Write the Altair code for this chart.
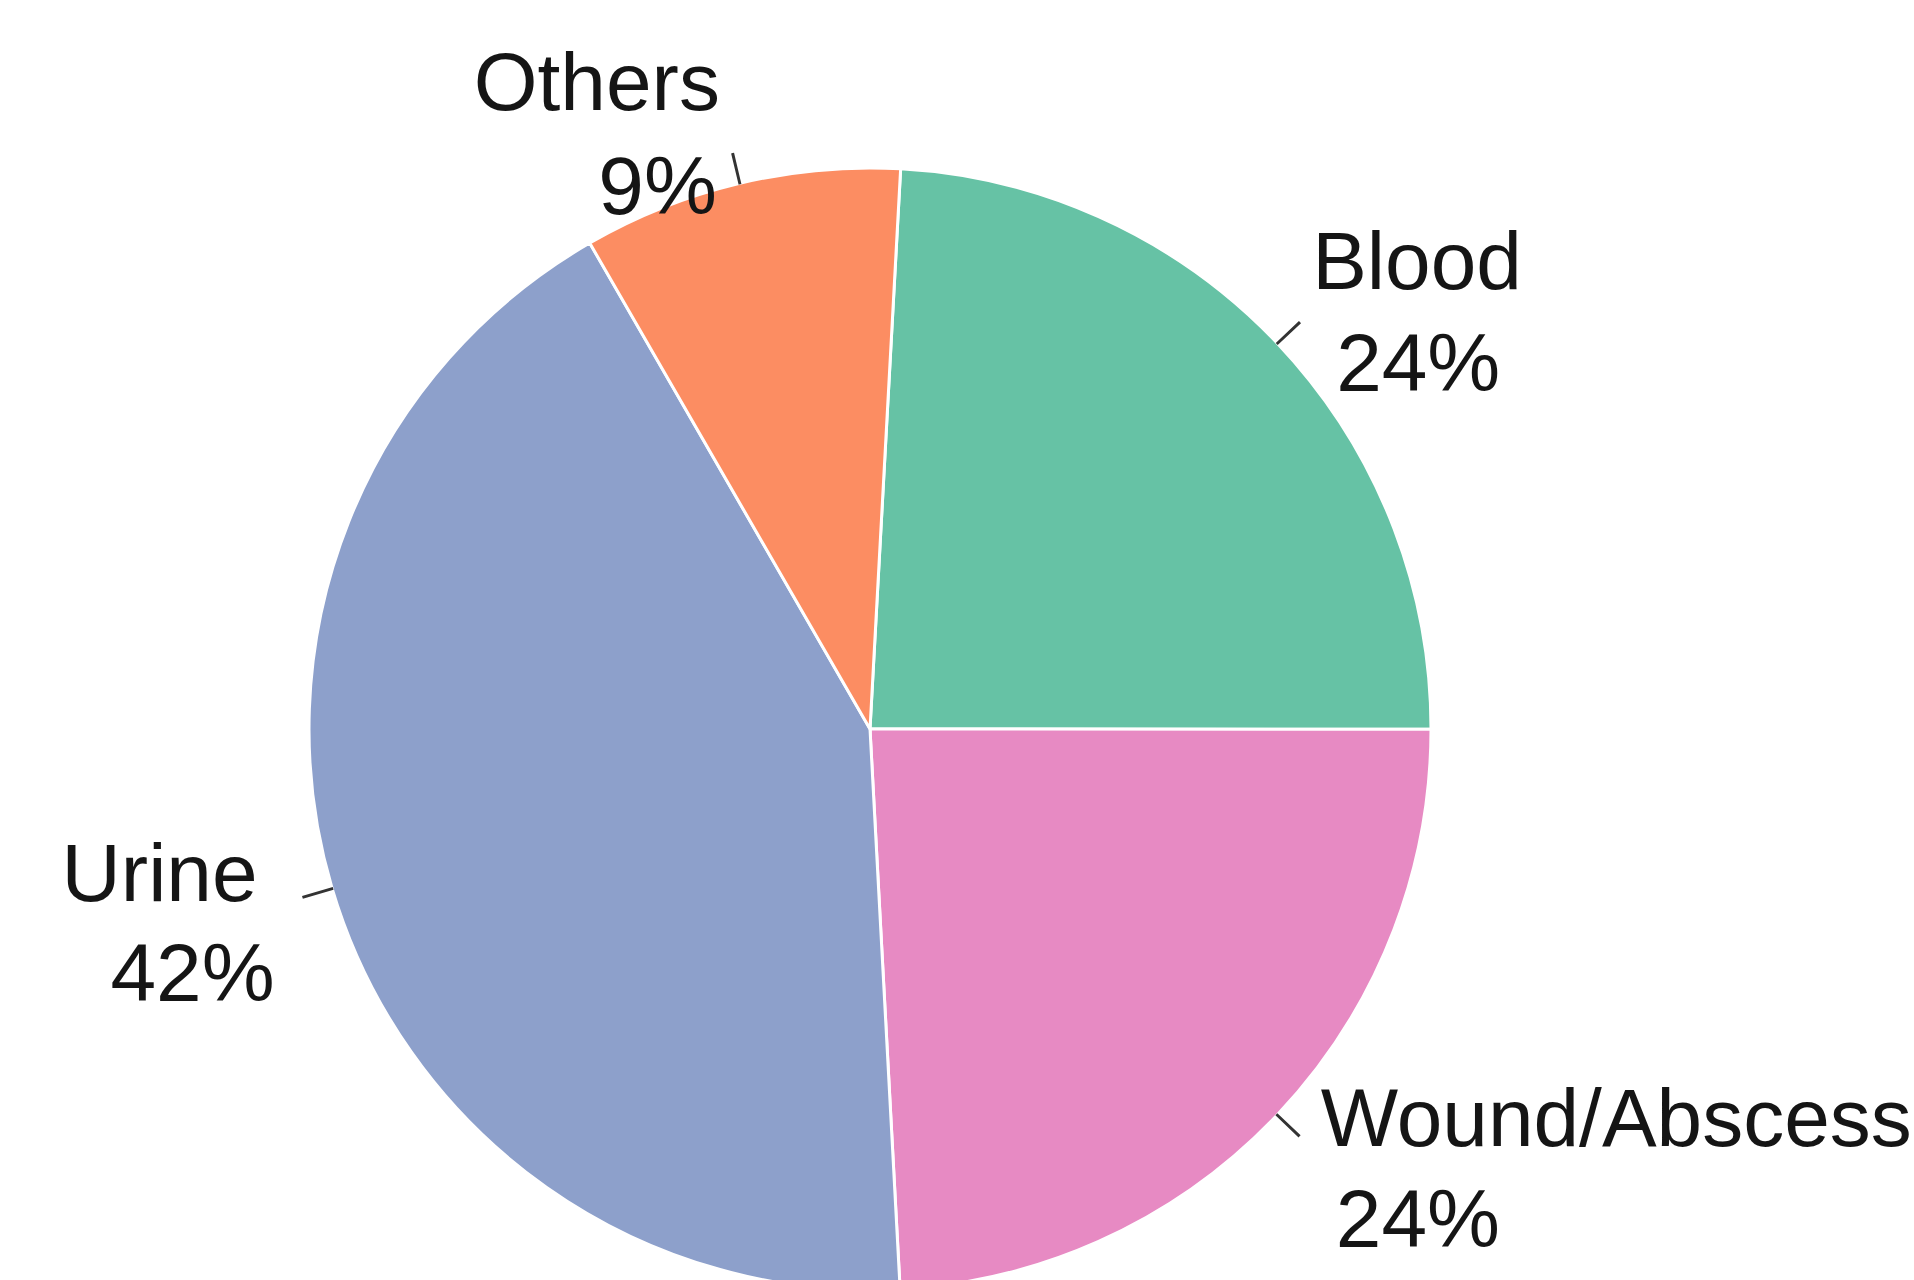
import math
import altair as alt
import pandas as pd

# ---- data ----
categories = ["Blood", "Wound/Abscess", "Urine", "Others"]
values = [21, 21, 37, 8]
pct_labels = ["24%", "24%", "42%", "9%"]
colors = ["#66C2A5", "#E78AC3", "#8DA0CB", "#FC8D62"]

# ---- derived table ----
total = sum(values)
starts, ends = [], []
acc = 0
for v in values:
    starts.append(acc)
    acc += v
    ends.append(acc)
df = pd.DataFrame({
    "category": categories,
    "value": values,
    "pct": pct_labels,
    "start": starts,
    "end": ends,
})
df["mid"] = (df["start"] + df["end"]) / 2

# ---- layout ----
CX, CY = 870, 729
R = 561
OFF = math.radians(3.13)
FONT = "Liberation Sans"
FS = 82

theta_scale = alt.Scale(domain=[0, total], range=[OFF, OFF + 2 * math.pi])
color_scale = alt.Scale(domain=categories, range=colors)

base = alt.Chart(df)

pie = base.mark_arc(radius=R, stroke="white", strokeWidth=3).encode(
    theta=alt.Theta("start:Q", scale=theta_scale),
    theta2="end:Q",
    color=alt.Color("category:N", scale=color_scale, legend=None),
    x=alt.value(CX),
    y=alt.value(CY),
)

eps = 0.035
ticks = base.transform_calculate(
    t0=f"datum.mid - {eps}", t1=f"datum.mid + {eps}"
).mark_arc(radius=592, radius2=560, color="#333333").encode(
    theta=alt.Theta("t0:Q", scale=theta_scale),
    theta2="t1:Q",
    x=alt.value(CX),
    y=alt.value(CY),
)

# label placement: (align, dx, dy) for name line and percent line
label_layout = {
    "Blood": (("left", 10, -31), ("left", 34, 71)),
    "Wound/Abscess": (("left", 19, 8), ("left", 34, 109)),
    "Urine": (("right", -42, 3), ("right", -25, 103)),
    "Others": (("right", -12, -40), ("right", -15, 64)),
}

texts = []
for cat, (l1, l2) in label_layout.items():
    for field, (align, dx, dy) in (("category", l1), ("pct", l2)):
        t = base.transform_filter(alt.datum.category == cat).mark_text(
            radius=595, align=align, baseline="alphabetic", dx=dx, dy=dy,
            font=FONT, fontSize=FS, color="#151515",
        ).encode(
            theta=alt.Theta("mid:Q", scale=theta_scale),
            text=alt.Text(f"{field}:N"),
            x=alt.value(CX),
            y=alt.value(CY),
        )
        texts.append(t)

chart = alt.layer(pie, ticks, *texts).properties(
    width=1914, height=1280, padding=0, autosize="none", background="white"
).configure_view(stroke=None)

chart.save("out.html", embed_options={"renderer": "svg", "actions": False})
